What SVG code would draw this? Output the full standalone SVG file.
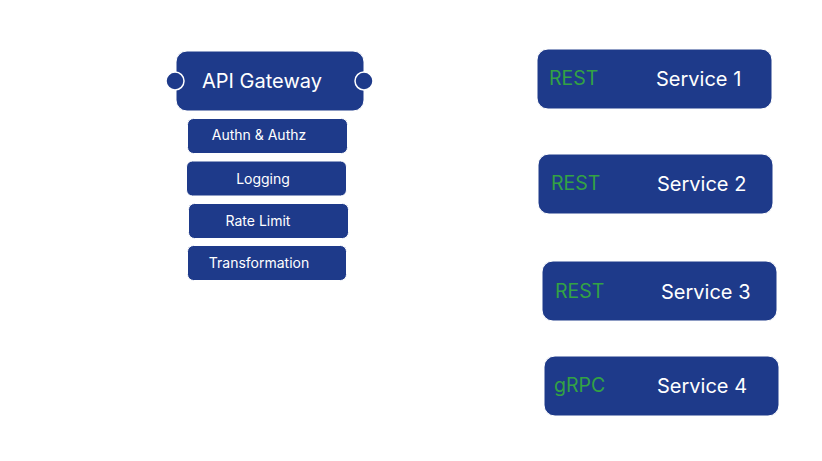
<svg xmlns="http://www.w3.org/2000/svg" width="822" height="461" viewBox="0 0 822 461">
<style>
.box{fill:#1e3a8a;stroke:#ffffff;stroke-width:1}
.port{fill:#1e3a8a;stroke:#ffffff;stroke-width:1.5}
.t{font-family:Inter,"Liberation Sans",sans-serif;fill:#ffffff}
.big{font-size:20px}
.sm{font-size:14px}
.proto{font-family:Inter,"Liberation Sans",sans-serif;fill:#33a244;font-size:19.5px}
</style>
<rect width="822" height="461" fill="#ffffff"/>
<g id="connectors"></g>
<g id="api-gateway">
<rect class="box" x="176" y="51" width="188" height="60" rx="11"/>
<circle class="port" cx="175" cy="81" r="9"/>
<circle class="port" cx="364" cy="81" r="9"/>
<text class="t big" x="262" y="88" text-anchor="middle">API Gateway</text>
</g>
<g id="authn">
<rect class="box" x="187.5" y="118.5" width="160" height="35" rx="6"/>
<text class="t sm" x="259" y="140" text-anchor="middle">Authn &amp; Authz</text>
</g>
<g id="logging">
<rect class="box" x="186.5" y="161" width="160" height="35" rx="6"/>
<text class="t sm" x="263" y="184" text-anchor="middle">Logging</text>
</g>
<g id="rate-limit">
<rect class="box" x="188.5" y="203.5" width="160" height="35" rx="6"/>
<text class="t sm" x="258" y="226" text-anchor="middle">Rate Limit</text>
</g>
<g id="transformation">
<rect class="box" x="187.5" y="245.5" width="159" height="35" rx="6"/>
<text class="t sm" x="259" y="268" text-anchor="middle">Transformation</text>
</g>
<g id="service-1">
<rect class="box" x="537" y="49" width="235" height="60" rx="11"/>
<text class="proto" x="549" y="85">REST</text>
<text class="t big" x="656" y="86">Service 1</text>
</g>
<g id="service-2">
<rect class="box" x="538" y="154" width="235" height="60" rx="11"/>
<text class="proto" x="551" y="190">REST</text>
<text class="t big" x="657" y="191">Service 2</text>
</g>
<g id="service-3">
<rect class="box" x="542" y="261" width="235" height="60" rx="11"/>
<text class="proto" x="555" y="298">REST</text>
<text class="t big" x="661" y="299">Service 3</text>
</g>
<g id="service-4">
<rect class="box" x="544" y="356" width="235" height="60" rx="11"/>
<text class="proto" x="554" y="392">gRPC</text>
<text class="t big" x="657" y="393">Service 4</text>
</g>
</svg>
